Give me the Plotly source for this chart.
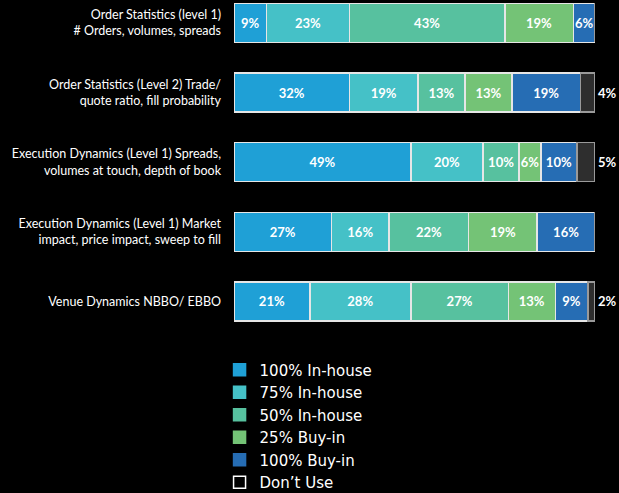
import plotly.graph_objects as go

categories = [
    "Order Statistics (level 1)<br># Orders, volumes, spreads",
    "Order Statistics (Level 2) Trade/<br>quote ratio, fill probability",
    "Execution Dynamics (Level 1) Spreads,<br>volumes at touch, depth of book",
    "Execution Dynamics (Level 1) Market<br>impact, price impact, sweep to fill",
    "Venue Dynamics NBBO/ EBBO",
]
series_names = ["100% In-house", "75% In-house", "50% In-house", "25% Buy-in", "100% Buy-in", "Don\u2019t Use"]
in_house_100 = [9, 32, 49, 27, 21]
in_house_75 = [23, 19, 20, 16, 28]
in_house_50 = [43, 13, 10, 22, 27]
buy_in_25 = [19, 13, 6, 19, 13]
buy_in_100 = [6, 19, 10, 16, 9]
dont_use = [0, 4, 5, 0, 2]
series_values = [in_house_100, in_house_75, in_house_50, buy_in_25, buy_in_100, dont_use]

colors = ["#1fa0d6", "#45c1c7", "#57c19f", "#74c376", "#266db4", "#2e2e2e"]
legend_fill = ["#1fa0d6", "#45c1c7", "#57c19f", "#74c376", "#266db4", "#000000"]
legend_line = ["#1fa0d6", "#45c1c7", "#57c19f", "#74c376", "#266db4", "#ffffff"]
line_colors = ["#e6e6e6"] * 5 + ["#9a9a9a"]

fig = go.Figure()
for i, (name, vals) in enumerate(zip(series_names, series_values)):
    last = i == len(series_names) - 1
    fig.add_trace(go.Bar(
        y=categories, x=vals, orientation="h", name=name,
        marker=dict(color=colors[i], line=dict(color=line_colors[i], width=1.5)),
        text=[f"{v}%" if v > 0 else "" for v in vals],
        textposition="outside" if last else "inside",
        insidetextanchor="middle",
        textangle=0,
        constraintext="none",
        cliponaxis=False,
        textfont=dict(family="Lato", size=13, color="white", weight="bold"),
        width=0.56,
        showlegend=False,
        hoverinfo="skip",
    ))

for i, name in enumerate(series_names):
    fig.add_trace(go.Bar(
        y=[None], x=[None], orientation="h", name=name,
        marker=dict(color=legend_fill[i], line=dict(color=legend_line[i], width=1.5)),
        showlegend=True,
    ))

fig.update_layout(
    width=619, height=493,
    barmode="stack",
    paper_bgcolor="black", plot_bgcolor="black",
    margin=dict(l=234, r=24, t=0, b=153, autoexpand=False),
    font=dict(family="Lato", color="white"),
    xaxis=dict(range=[0, 100], visible=False, fixedrange=True),
    yaxis=dict(
        type="category", range=[4.555, -0.33], showgrid=False, zeroline=False,
        showline=False, ticks="", ticklabelstandoff=12,
        tickfont=dict(family="Lato", size=12.5, color="white"),
    ),
    showlegend=True,
    legend=dict(
        orientation="v", traceorder="normal",
        x=-0.04, xanchor="left",
        yref="container", y=1 - 353.5 / 493, yanchor="top",
        font=dict(family="DejaVu Sans", size=15, color="white"),
        bgcolor="rgba(0,0,0,0)", itemwidth=30,
    ),
)

fig.write_html("out.html")
